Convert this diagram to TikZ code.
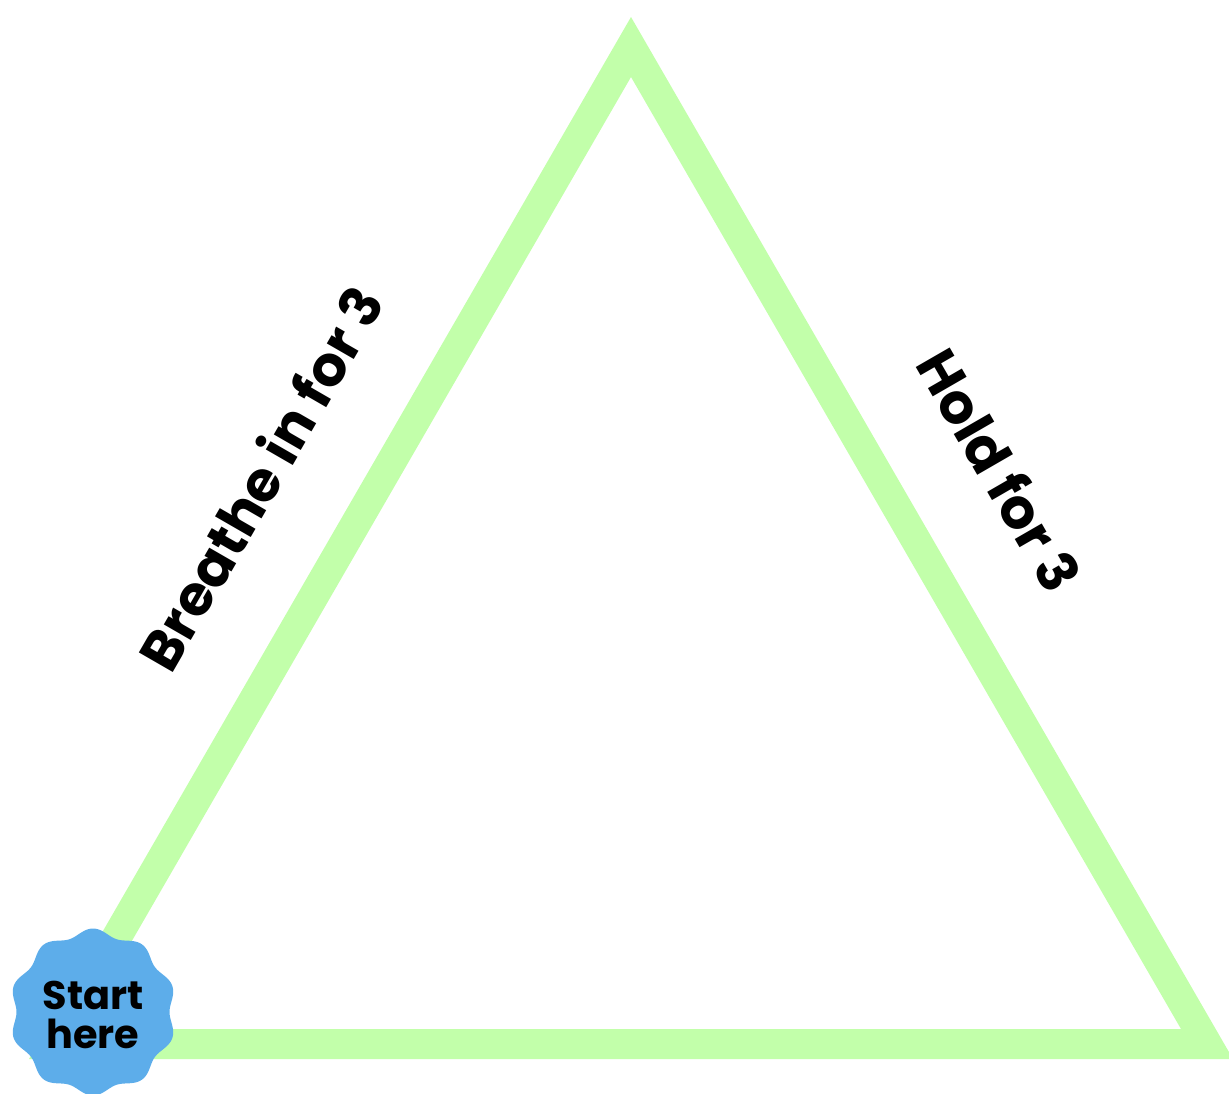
\documentclass[tikz,border=0pt]{standalone}
\usepackage{fontspec}
\setmainfont{Poppins}
\usetikzlibrary{positioning}
\definecolor{leafgreen}{HTML}{C2FFAA}
\definecolor{badgeblue}{HTML}{5DADEA}

\begin{document}
\begin{tikzpicture}[x=1bp,y=-1bp,
  side/.style={draw=leafgreen,line width=30bp,line join=miter},
  sidetext/.style={font=\fontsize{56}{58}\selectfont\bfseries,inner sep=0pt},
  badgetext/.style={font=\fontsize{40}{40}\selectfont\bfseries,align=center,inner sep=0pt}]
\useasboundingbox (0,0) rectangle (1229,1094);
% corners of the triangle
\coordinate (top) at (631,47);
\coordinate (left) at (55,1044);
\coordinate (right) at (1207,1044);
\draw[side] (left) -- (top) -- (right) -- cycle;
% step labels
\node[sidetext,rotate=60] (breathe) at (260,478) {Breathe in for 3};
\node[sidetext,rotate=-60] (hold) at (1000,470) {Hold for 3};
% start badge
\fill[badgeblue,shift={(93,1012)}] plot[domain=0:360,samples=240,smooth]
  ({(80+3.5*cos(10*(\x-90)))*cos(\x)},{(80+3.5*cos(10*(\x-90)))*sin(\x)}) -- cycle;
\node[badgetext] (start) at (93,1015) {Start\\here};
\end{tikzpicture}
\end{document}
